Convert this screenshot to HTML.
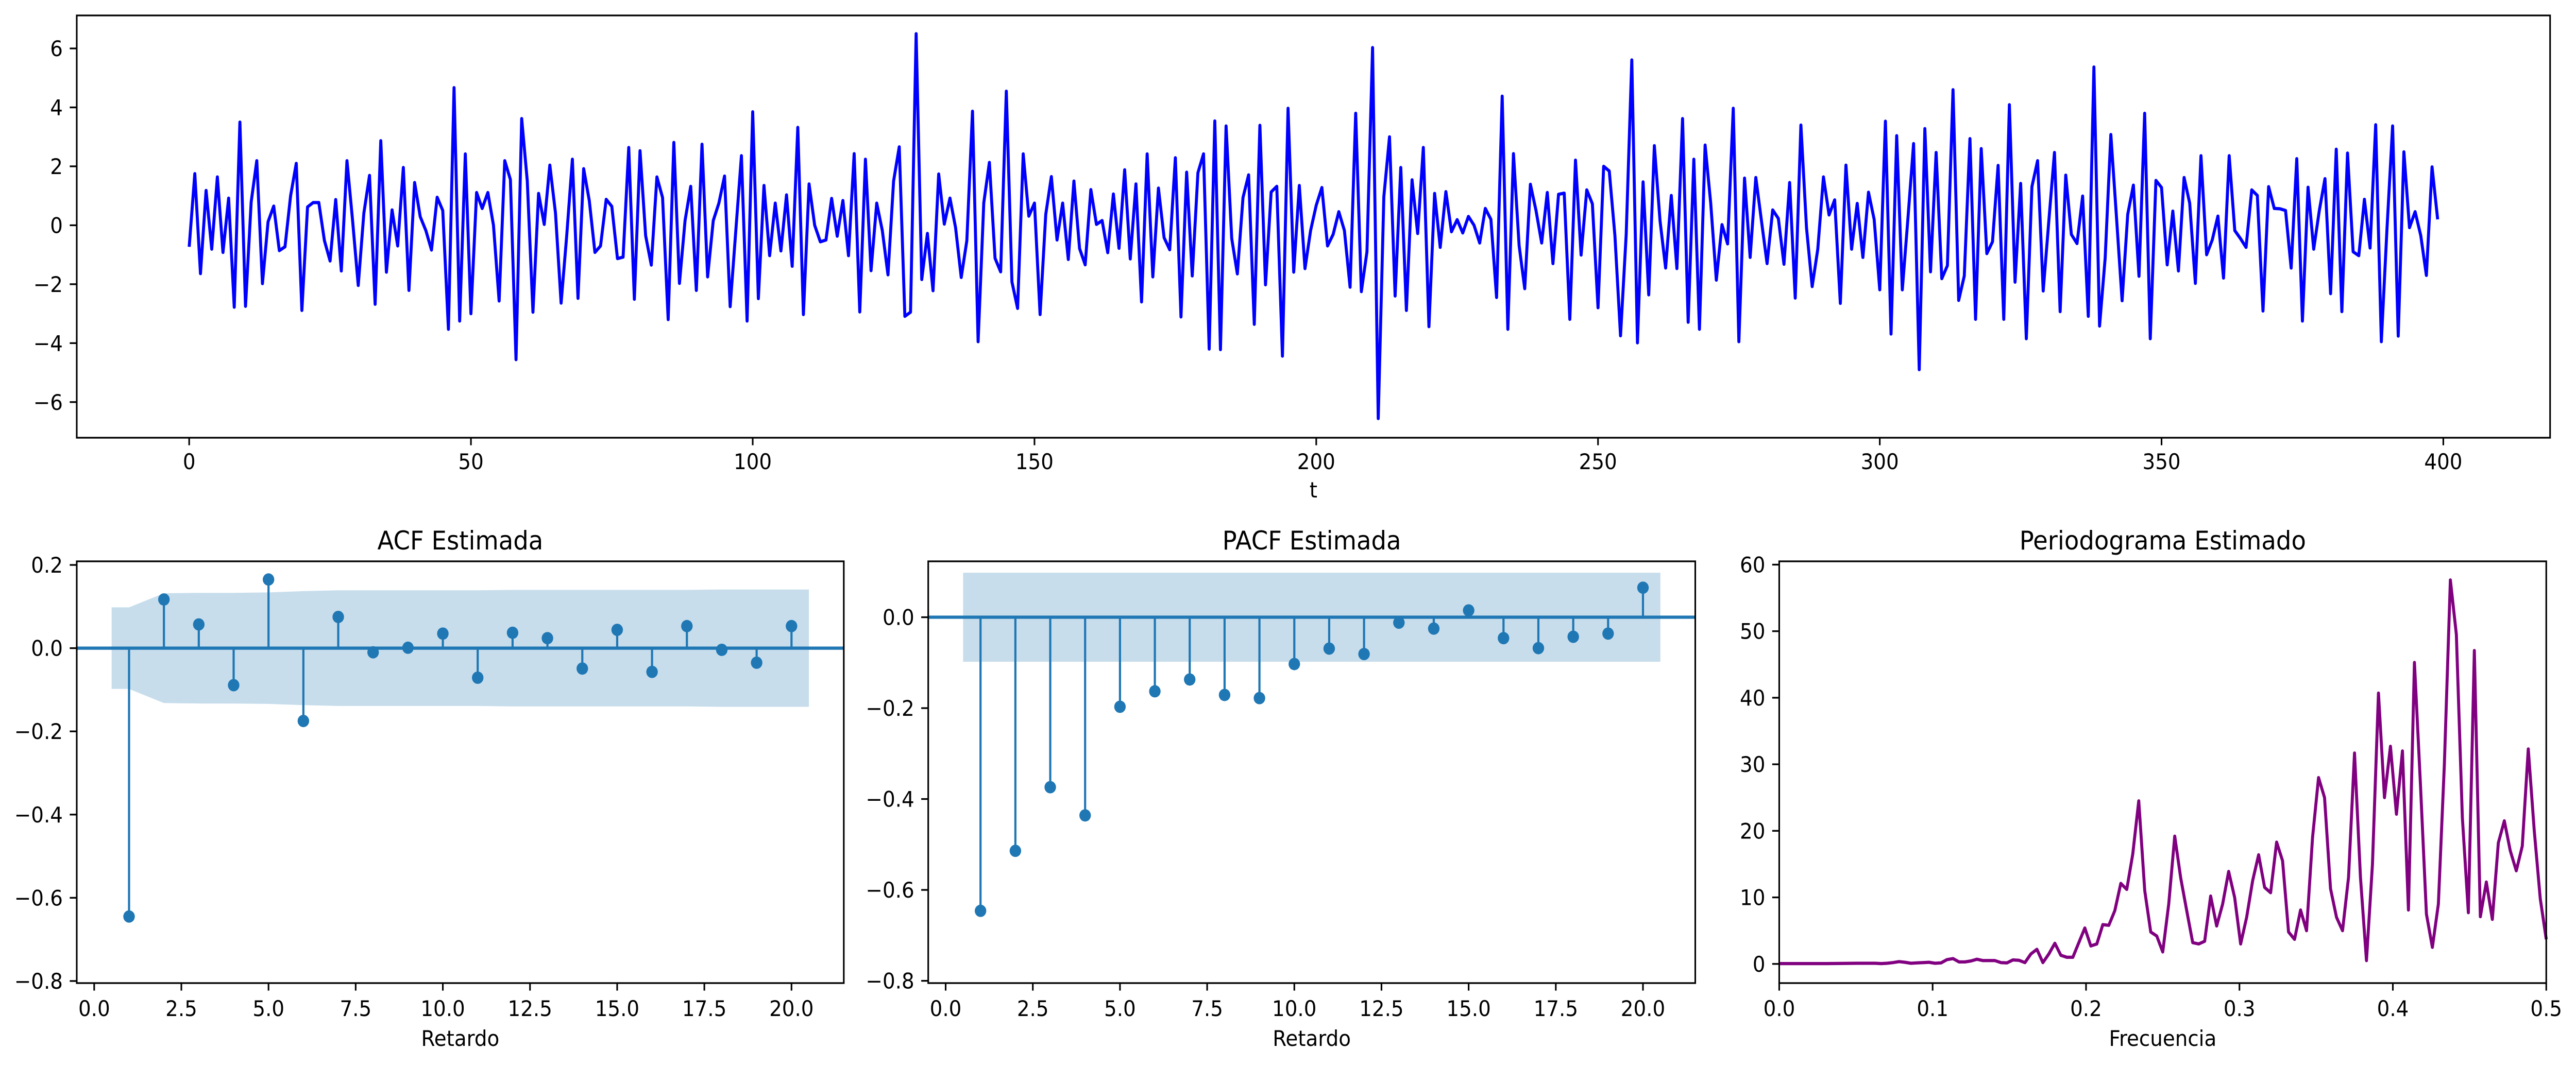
<!DOCTYPE html>
<html><head><meta charset="utf-8"><style>
html,body{margin:0;padding:0;background:#fff;width:100%;height:100%;overflow:hidden;}
svg{display:block;width:100vw;height:100vh;font-family:"DejaVu Sans","Liberation Sans",sans-serif;}
</style></head><body>
<svg id="fig" viewBox="0 0 5370 2070" preserveAspectRatio="none" xmlns="http://www.w3.org/2000/svg">
<rect width="5370" height="2070" fill="#fff"/>
</svg>
<script>
// ---- data ----
const seriesValues = [
-0.73,1.75,-1.64,1.18,-0.81,1.64,-0.92,0.92,-2.78,3.5,-2.75,0.79,2.19,-1.98,0.12,0.65,-0.86,-0.73,1.0,2.1,
-2.89,0.62,0.77,0.77,-0.52,-1.21,0.87,-1.55,2.19,0.16,-2.04,0.41,1.69,-2.68,2.87,-1.59,0.52,-0.7,1.96,-2.21,
1.45,0.29,-0.18,-0.84,0.95,0.5,-3.53,4.67,-3.25,2.42,-3.0,1.11,0.57,1.11,0,-2.57,2.19,1.55,-4.56,3.62,
1.5,-2.95,1.08,0.03,2.04,0.41,-2.64,-0.35,2.24,-2.48,1.92,0.84,-0.92,-0.7,0.88,0.64,-1.13,-1.08,2.64,-2.51,
2.53,-0.35,-1.35,1.64,0.94,-3.2,2.81,-1.97,0.16,1.32,-2.21,2.75,-1.75,0.16,0.75,1.67,-2.76,-0.18,2.36,-3.25,
3.85,-2.49,1.35,-1.03,0.75,-0.87,1.03,-1.39,3.32,-3.03,1.4,0,-0.56,-0.5,0.91,-0.37,0.84,-1.03,2.43,-2.94,
2.24,-1.54,0.75,-0.18,-1.68,1.5,2.66,-3.09,-2.95,6.5,-1.84,-0.28,-2.22,1.74,0.04,0.92,-0.08,-1.77,-0.52,3.87,
-3.95,0.76,2.13,-1.12,-1.58,4.55,-1.92,-2.82,2.42,0.31,0.75,-3.03,0.37,1.65,-0.5,0.75,-1.16,1.5,-0.79,-1.34,
1.21,0.03,0.16,-0.93,1.06,-0.78,1.88,-1.14,1.4,-2.6,2.42,-1.75,1.26,-0.42,-0.83,2.29,-3.11,1.8,-1.72,1.78,
2.42,-4.2,3.54,-4.22,3.37,-0.45,-1.65,0.94,1.71,-3.36,3.39,-2.02,1.13,1.32,-4.44,3.97,-1.59,1.35,-1.47,-0.18,
0.68,1.28,-0.7,-0.31,0.46,-0.18,-2.1,3.8,-2.25,-0.9,6.03,-6.56,0.97,3.0,-2.4,1.96,-2.89,1.54,-0.28,2.64,
-3.44,1.08,-0.75,1.14,-0.22,0.19,-0.26,0.3,0,-0.6,0.57,0.2,-2.45,4.38,-3.53,2.43,-0.69,-2.15,1.39,0.5,
-0.6,1.11,-1.3,1.05,1.09,-3.19,2.21,-1.01,1.2,0.73,-2.8,2.0,1.84,-0.35,-3.75,-0.31,5.61,-3.99,1.47,-2.36,
2.7,0.16,-1.45,1.01,-1.47,3.62,-3.29,2.24,-3.53,2.72,0.75,-1.86,0.02,-0.63,3.97,-3.95,1.6,-1.09,1.62,0.16,
-1.3,0.52,0.23,-1.32,1.45,-2.47,3.4,-0.09,-2.08,-0.81,1.64,0.35,0.86,-2.65,2.04,-0.81,0.74,-1.09,1.12,0.2,
-2.19,3.53,-3.69,3.04,-2.19,0.25,2.77,-4.9,3.28,-1.58,2.47,-1.81,-1.37,4.6,-2.55,-1.72,2.94,-3.19,2.6,-0.96,
-0.56,2.03,-3.19,4.09,-1.93,1.42,-3.85,1.31,2.19,-2.23,0.16,2.47,-2.93,1.7,-0.31,-0.62,0.99,-3.09,5.37,-3.42,
-1.11,3.08,0.29,-2.56,0.37,1.36,-1.73,3.8,-3.85,1.52,1.28,-1.34,0.48,-1.55,1.62,0.75,-1.97,2.36,-1.0,-0.5,
0.31,-1.79,2.36,-0.18,-0.45,-0.75,1.2,1.01,-2.91,1.31,0.57,0.56,0.5,-1.45,2.26,-3.25,1.29,-0.81,0.5,1.58,
-2.32,2.58,-2.93,2.45,-0.9,-1.03,0.88,-0.77,3.41,-3.95,-0.14,3.37,-3.76,2.49,-0.08,0.46,-0.35,-1.7,1.98,0.2];
const acfValues = [-0.645,0.117,0.057,-0.089,0.165,-0.175,0.075,-0.01,0.001,0.035,-0.071,0.037,0.024,-0.049,0.044,-0.057,0.053,-0.004,-0.035,0.053];
const acfConf = [0.098,0.132,0.133,0.133,0.134,0.137,0.139,0.139,0.139,0.139,0.139,0.140,0.140,0.140,0.140,0.140,0.140,0.141,0.141,0.141];
const pacfValues = [-0.646,-0.514,-0.374,-0.436,-0.197,-0.163,-0.137,-0.171,-0.178,-0.103,-0.069,-0.081,-0.012,-0.025,0.015,-0.046,-0.068,-0.043,-0.036,0.065];
const pacfConf = 0.098;
const periodValues = [
0.05,0.05,0.05,0.05,0.05,0.05,0.05,0.05,0.05,0.06,0.07,0.08,0.09,0.1,0.1,0.1,0.1,0.05,0.1,0.2,
0.35,0.25,0.1,0.15,0.2,0.25,0.1,0.15,0.65,0.8,0.3,0.3,0.45,0.7,0.5,0.5,0.5,0.2,0.15,0.6,
0.55,0.2,1.5,2.2,0.2,1.5,3.1,1.3,1.0,1.0,3.2,5.4,2.7,3.0,5.9,5.8,8.0,12.1,11.2,16.5,
24.5,11,4.8,4.2,1.8,9.0,19.2,12.9,8.0,3.2,3.0,3.4,10.2,5.7,9.0,13.9,10,3.0,7.0,12.5,
16.4,11.5,10.7,18.3,15.5,4.8,3.7,8.1,5.0,19,28,25,11.3,7.0,5.0,13.0,31.7,13.0,0.5,15.0,
40.7,25,32.7,22.5,32,8.1,45.3,27,7.5,2.5,9.0,30,57.7,49.5,22,7.7,47.1,7.1,12.3,6.7,
18.2,21.5,17,14,17.7,32.3,20,9.8,3.7];
const topXTicks = [0,50,100,150,200,250,300,350,400];
const topYTicks = [-6,-4,-2,0,2,4,6];
const lagTicks = [0,2.5,5,7.5,10,12.5,15,17.5,20];
const acfYTicks = [-0.8,-0.6,-0.4,-0.2,0.0,0.2];
const pacfYTicks = [-0.8,-0.6,-0.4,-0.2,0.0];
const freqTicks = [0,0.1,0.2,0.3,0.4,0.5];
const perYTicks = [0,10,20,30,40,50,60];

// ---- helpers ----
const NS = "http://www.w3.org/2000/svg";
const fig = document.getElementById('fig');
function mk(tag, attrs, parent){
  const e = document.createElementNS(NS, tag);
  for (const k in attrs) e.setAttribute(k, attrs[k]);
  (parent||fig).appendChild(e);
  return e;
}
function fmt(v, d){ const s = v.toFixed(d); return s.replace('-', '\u2212'); }
const TICKF = 41.7, TITLEF = 50;

function makeAxes(name, box, xlim, ylim){
  const g = mk('g', {});
  
  
  const sx = v => box.x0 + (v - xlim[0]) / (xlim[1]-xlim[0]) * (box.x1 - box.x0);
  const sy = v => box.y1 - (v - ylim[0]) / (ylim[1]-ylim[0]) * (box.y1 - box.y0);
  return {g, sx, sy, box};
}
function drawFrame(ax, xticks, xdec, yticks, ydec, title, xlabel, tickOff, labelOff){
  const {g, sx, sy, box} = ax;
  const frame = mk('rect', {x:box.x0, y:box.y0, width:box.x1-box.x0, height:box.y1-box.y0, fill:'none', stroke:'#000', 'stroke-width':3.33}, g);
  
  
  const xt = mk('g', {}, g);
  
  
  xticks.forEach(v => {
    const x = sx(v);
    mk('line', {x1:x, x2:x, y1:box.y1, y2:box.y1+14.6, stroke:'#000', 'stroke-width':3.33}, xt);
    const t = mk('text', {x:x, y:box.y1+tickOff, 'font-size':TICKF, 'text-anchor':'middle', fill:'#000'}, xt);
    
    
    t.textContent = fmt(v, xdec);
  });
  const yt = mk('g', {}, g);
  
  
  yticks.forEach(v => {
    const y = sy(v);
    mk('line', {x1:box.x0-14.6, x2:box.x0, y1:y, y2:y, stroke:'#000', 'stroke-width':3.33}, yt);
    const t = mk('text', {x:box.x0-29, y:y+15, 'font-size':TICKF, 'text-anchor':'end', fill:'#000'}, yt);
    
    
    t.textContent = fmt(v, ydec);
  });
  if (title){
    const t = mk('text', {x:(box.x0+box.x1)/2, y:box.y0-23, 'font-size':TITLEF, 'text-anchor':'middle', fill:'#000'}, g);
    
    
    t.textContent = title;
  }
  if (xlabel){
    const t = mk('text', {x:(box.x0+box.x1)/2, y:box.y1+labelOff, 'font-size':TICKF, 'text-anchor':'middle', fill:'#000'}, g);
    
    
    t.textContent = xlabel;
  }
}

// ---- top time series ----
(function(){
  const ax = makeAxes('time-series-panel', {x0:160,x1:5316,y0:30,y1:850}, [-19.95,418.95], [-7.21,7.12]);
  const pts = seriesValues.map((v,i)=> ax.sx(i).toFixed(1)+','+ax.sy(v).toFixed(1)).join(' ');
  const pl = mk('polyline', {points:pts, fill:'none', stroke:'#0000ff', 'stroke-width':6.25, 'stroke-linejoin':'round'}, ax.g);
  
  
  drawFrame(ax, topXTicks, 0, topYTicks, 0, null, 't', 61, 116);
})();

// ---- stem plot helper ----
function stemPanel(name, box, ylim, vals, bandUpper, title, yticks){
  const ax = makeAxes(name, box, [-0.5,21.5], ylim);
  const n = vals.length;
  const xs = [0.5]; const ups = [bandUpper(0)];
  for (let i=0;i<n;i++){ xs.push(i+1); ups.push(bandUpper(i)); }
  xs.push(n+0.5); ups.push(bandUpper(n-1));
  let d = xs.map((x,i)=> ax.sx(x).toFixed(1)+','+ax.sy(ups[i]).toFixed(1));
  for (let i=xs.length-1;i>=0;i--) d.push(ax.sx(xs[i]).toFixed(1)+','+ax.sy(-ups[i]).toFixed(1));
  const band = mk('polygon', {points:d.join(' '), fill:'#1f77b4', 'fill-opacity':0.25, stroke:'none'}, ax.g);
  
  
  vals.forEach((v,i)=>{
    const x = ax.sx(i+1);
    const s = mk('line', {x1:x, x2:x, y1:ax.sy(0), y2:ax.sy(v), stroke:'#1f77b4', 'stroke-width':4.5}, ax.g);
    
    
  });
  const zl = mk('line', {x1:box.x0, x2:box.x1, y1:ax.sy(0), y2:ax.sy(0), stroke:'#1f77b4', 'stroke-width':6.25}, ax.g);
  
  
  vals.forEach((v,i)=>{
    const c = mk('circle', {cx:ax.sx(i+1), cy:ax.sy(v), r:12, fill:'#1f77b4'}, ax.g);
    
    
  });
  drawFrame(ax, lagTicks, 1, yticks, 1, title, 'Retardo', 64, 122);
}
stemPanel('acf-panel', {x0:160,x1:1759,y0:1090,y1:1909}, [-0.805,0.2087], acfValues, i=>acfConf[i], 'ACF Estimada', acfYTicks);
stemPanel('pacf-panel', {x0:1935,x1:3534,y0:1090,y1:1909}, [-0.805,0.123], pacfValues, i=>pacfConf, 'PACF Estimada', pacfYTicks);

// ---- periodogram ----
(function(){
  const ax = makeAxes('periodogram-panel', {x0:3709,x1:5308,y0:1090,y1:1909}, [0,0.5], [-2.88,60.5]);
  const n = periodValues.length;
  const pts = periodValues.map((v,i)=> ax.sx(i*0.5/(n-1)).toFixed(1)+','+ax.sy(v).toFixed(1)).join(' ');
  const pl = mk('polyline', {points:pts, fill:'none', stroke:'#800080', 'stroke-width':6.25, 'stroke-linejoin':'round'}, ax.g);
  
  
  drawFrame(ax, freqTicks, 1, perYTicks, 0, 'Periodograma Estimado', 'Frecuencia', 64, 122);
})();
</script>
</body></html>
